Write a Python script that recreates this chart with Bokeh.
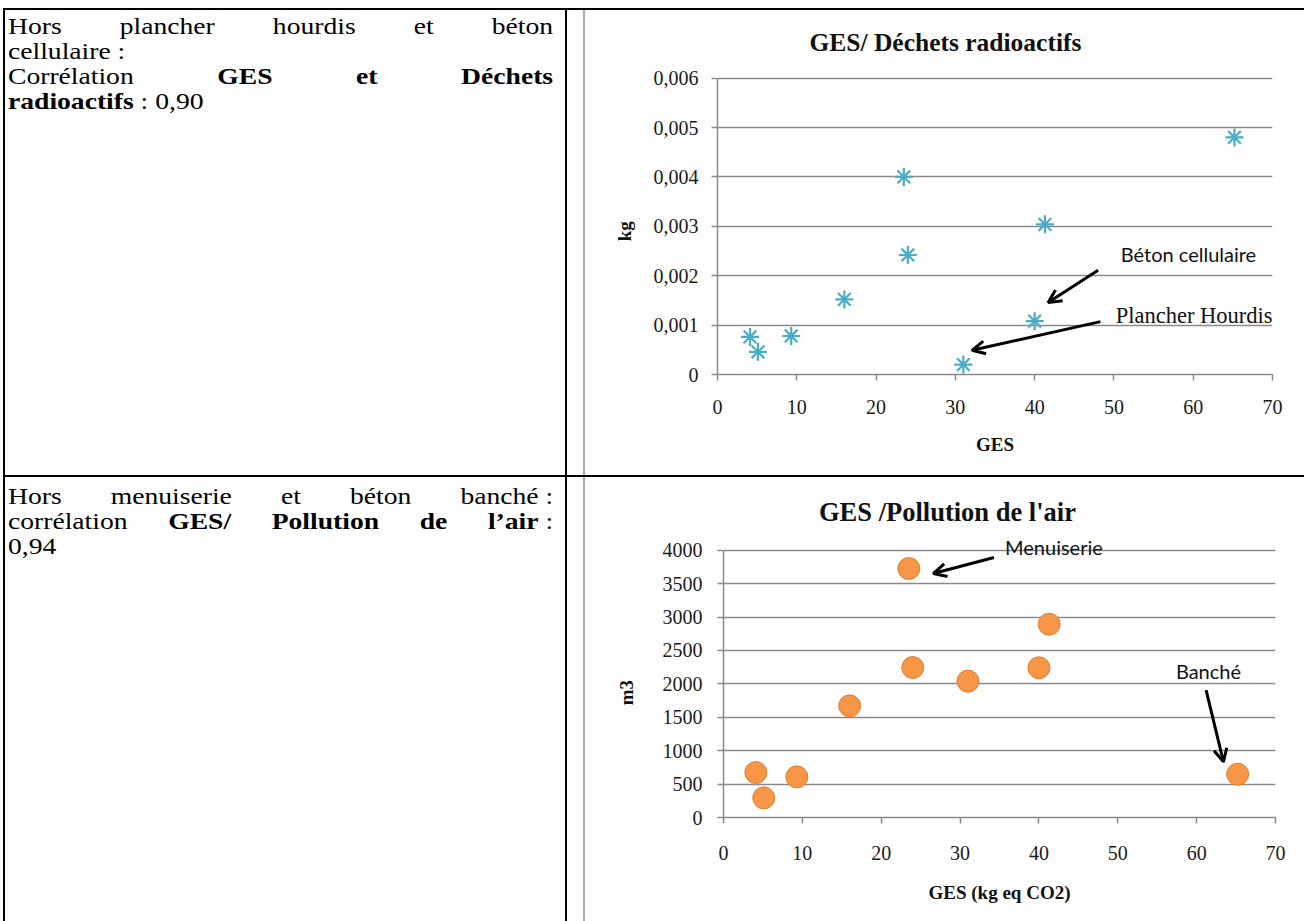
import math
from bokeh.plotting import figure
from bokeh.models import (Range1d, FixedTicker, CustomJSTickFormatter, Arrow, OpenHead,
                          Label, Div, Spacer)
from bokeh.layouts import row, column
from bokeh.embed import file_html
from bokeh.resources import INLINE

# ---------------- data ----------------
ges = [4.1, 5.1, 9.3, 16.0, 23.5, 24.0, 31.0, 40.0, 41.3, 65.2]
dechets_radioactifs = [0.00076, 0.00046, 0.00078, 0.00152, 0.00400, 0.00242,
                       0.00020, 0.00108, 0.00304, 0.00480]
pollution_air = [673, 294, 608, 1671, 3726, 2244, 2040, 2240, 2893, 648]

x_ticks = [0, 10, 20, 30, 40, 50, 60, 70]
y1_ticks = [0, 0.001, 0.002, 0.003, 0.004, 0.005, 0.006]
y2_ticks = [0, 500, 1000, 1500, 2000, 2500, 3000, 3500, 4000]

title1 = "GES/ Déchets radioactifs"
title2 = "GES /Pollution de l'air"
xlabel1 = "GES"
xlabel2 = "GES (kg eq CO2)"
ylabel1 = "kg"
ylabel2 = "m3"

GRID = "#8a8a8a"
SERIF = "Liberation Serif"
SANS = "Lato"


def style_axes(p, yticks, ybounds, ystandoff, xstandoff, xlab_standoff):
    p.xaxis.ticker = FixedTicker(ticks=x_ticks)
    p.yaxis.ticker = FixedTicker(ticks=yticks)
    p.yaxis.bounds = ybounds
    for ax in p.axis:
        ax.axis_line_color = GRID
        ax.axis_line_width = 1.5
        ax.major_tick_line_color = GRID
        ax.major_tick_line_width = 1.5
        ax.major_tick_out = 6
        ax.major_tick_in = 0
        ax.minor_tick_line_color = None
        ax.major_label_text_font = SERIF
        ax.major_label_text_font_size = "20px"
        ax.major_label_text_color = "#1a1a1a"
        ax.axis_label_text_font = SERIF
        ax.axis_label_text_font_size = "19px"
        ax.axis_label_text_font_style = "bold"
        ax.axis_label_text_color = "#111111"
    p.yaxis.major_label_standoff = ystandoff
    p.xaxis.major_label_standoff = xstandoff
    p.xaxis.axis_label_standoff = xlab_standoff
    p.xgrid.visible = False
    p.ygrid.grid_line_color = GRID
    p.ygrid.grid_line_width = 1.5
    p.outline_line_color = None
    p.background_fill_color = "white"
    p.border_fill_color = "white"


def add_arrow(p, x0, y0, x1, y1):
    p.add_layout(Arrow(end=OpenHead(size=13, line_width=3, line_color="black"),
                       x_start=x0, y_start=y0, x_end=x1, y_end=y1,
                       line_width=3, line_color="black"))


def ylabel_fig(h, text, x, y):
    f = figure(width=60, height=h, x_range=Range1d(0, 60), y_range=Range1d(0, h),
               output_backend="svg", toolbar_location=None, min_border=0,
               x_axis_type=None, y_axis_type=None)
    f.grid.visible = False
    f.outline_line_color = None
    f.add_layout(Label(x=x, y=y, text=text, angle=math.pi / 2, text_align="center",
                       text_baseline="middle", text_font=SERIF, text_font_size="19px",
                       text_font_style="bold", text_color="#111111"))
    return f


# ---------------- chart 1 ----------------
# frame runs to the top of the cell so the title can sit inside it
p1 = figure(width=659, height=465, x_range=Range1d(0, 70), y_range=Range1d(0, 0.00737),
            output_backend="svg", toolbar_location=None,
            min_border_left=72, min_border_right=32, min_border_top=0, min_border_bottom=101,
            x_axis_label=xlabel1)
style_axes(p1, y1_ticks, (0, 0.006), 13, 19, 17)
p1.yaxis.formatter = CustomJSTickFormatter(
    code="return tick == 0 ? '0' : tick.toFixed(3).replace('.', ',')")
p1.scatter(ges, dechets_radioactifs, marker="asterisk", size=18,
           line_color="#4bacc6", line_width=2.2)
p1.add_layout(Label(x=28.75, y=0.00673, text=title1, text_align="center", text_baseline="middle",
                    text_font=SERIF, text_font_size="25.5px", text_font_style="bold",
                    text_color="#111111"))
p1.add_layout(Label(x=59.4, y=0.00243, text="Béton cellulaire", text_align="center",
                    text_baseline="middle", text_font=SANS, text_font_size="20px",
                    text_color="#111111"))
p1.add_layout(Label(x=70, y=0.0012, text="Plancher Hourdis", text_align="right",
                    text_baseline="middle", text_font=SERIF, text_font_size="22.5px",
                    text_color="#111111"))
add_arrow(p1, 48.0, 0.00211, 41.7, 0.00146)
add_arrow(p1, 48.3, 0.00107, 32.1, 0.00049)
yl1 = ylabel_fig(465, ylabel1, 39, 183)

# ---------------- chart 2 ----------------
p2 = figure(width=659, height=444, x_range=Range1d(0, 70), y_range=Range1d(0, 5088),
            output_backend="svg", toolbar_location=None,
            min_border_left=78, min_border_right=29, min_border_top=0, min_border_bottom=104,
            x_axis_label=xlabel2)
style_axes(p2, y2_ticks, (0, 4000), 15, 22, 19)
p2.scatter(ges, pollution_air, marker="circle", size=22,
           fill_color="#f79646", line_color="#e07f33", line_width=1)
p2.add_layout(Label(x=28.4, y=4569, text=title2, text_align="center", text_baseline="middle",
                    text_font=SERIF, text_font_size="26.5px", text_font_style="bold",
                    text_color="#111111"))
p2.add_layout(Label(x=41.9, y=4049, text="Menuiserie", text_align="center",
                    text_baseline="middle", text_font=SANS, text_font_size="20px",
                    text_color="#111111"))
p2.add_layout(Label(x=61.5, y=2194, text="Banché", text_align="center",
                    text_baseline="middle", text_font=SANS, text_font_size="20px",
                    text_color="#111111"))
add_arrow(p2, 34.3, 3890, 26.6, 3651)
add_arrow(p2, 61.2, 1905, 63.4, 832)
yl2 = ylabel_fig(444, ylabel2, 41, 163)

# ---------------- text cells ----------------
def cell_html(lines, pad_top):
    parts = []
    for txt, just in lines:
        if just:
            st = "text-align:justify;text-align-last:justify;"
        else:
            st = "text-align:left;"
        parts.append(f'<div style="{st}white-space:normal;">{txt}</div>')
    return ('<div style="width:474px;transform:scaleX(1.15);transform-origin:0 0;'
            f'margin-left:3px;padding-top:{pad_top}px;font-family:\'Liberation Serif\';'
            'font-size:24px;line-height:25px;color:#000;">' + "".join(parts) + "</div>")


text1 = cell_html([
    ("Hors plancher hourdis et béton", True),
    ("cellulaire :", False),
    ("Corrélation <b>GES et Déchets</b>", True),
    ("<b>radioactifs</b> : 0,90", False),
], 4)
text2 = cell_html([
    ('Hors menuiserie et béton <span style="display:inline-block">banché :</span>', True),
    ('corrélation <b>GES/ Pollution de</b> <span style="display:inline-block"><b>l’air</b> :</span>', True),
    ("0,94", False),
], 7)

d1 = Div(text=text1, width=560, height=465, margin=0)
d2 = Div(text=text2, width=560, height=444, margin=0)


def blank(w, h):
    return Spacer(width=w, height=h, margin=0)


def bar(w, h, color="black"):
    return Spacer(width=w, height=h, margin=0, styles={"background-color": color})


top = column(blank(1304, 8), row(blank(3, 2), bar(1301, 2)))
row1 = row(blank(3, 465), bar(2, 465), d1, bar(2, 465), blank(16, 465),
           bar(2, 465, "#a8a8a8"), yl1, p1)
divider = row(blank(3, 2), bar(1301, 2))
row2 = row(blank(3, 444), bar(2, 444), d2, bar(2, 444), blank(16, 444),
           bar(2, 444, "#a8a8a8"), yl2, p2)
layout = column(top, row1, divider, row2)

open("out.html", "w").write(file_html(layout, INLINE))
